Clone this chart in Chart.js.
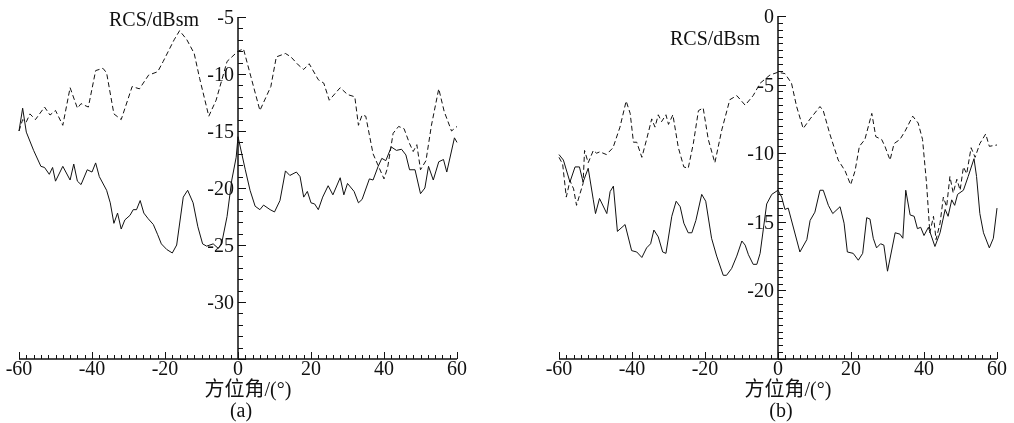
<!DOCTYPE html>
<html>
<head>
<meta charset="utf-8">
<script src="https://cdn.jsdelivr.net/npm/chart.js@4.4.0/dist/chart.umd.min.js"></script>
<style>
    html, body { margin: 0; padding: 0; background: #fff; }
    .panel { position: absolute; top: 0; width: 507px; height: 423px; }
</style>
</head>
<body>
<div class="panel" style="left:0"><canvas id="chartA"></canvas></div>
<div class="panel" style="left:507px"><canvas id="chartB"></canvas></div>
<script>
// --- dados ---
const xTickLabels = [-60, -40, -20, 0, 20, 40, 60];
const yTickLabelsA = [-5, -10, -15, -20, -25, -30];
const yTickLabelsB = [0, -5, -10, -15, -20];

// (a) curva tracejada
const aziA_dashed = [-60,-59,-58,-57,-55.5,-53,-51.5,-50,-48,-46,-44,-43,-41,-39,-37,-36,-34,-32,-29,-27,-24.5,-22,-20.5,-17.5,-16,-14,-12,-10.5,-8,-6,-3,0,1.5,3.5,6,9,10.5,13,14.5,16.5,18,19.5,22,23.5,25,28,30,32,33,34,35,37,40,41,42.5,44,45.5,47,48,49,50,51.5,53,55,56.5,58.5,60];
const rcsA_dashed = [-15,-14,-14.2,-13.5,-14,-12.9,-13.6,-13.2,-14.5,-11.2,-13,-12.6,-12.9,-9.7,-9.5,-9.9,-13.5,-14,-11.1,-11.3,-10.1,-9.8,-8.9,-7,-6.2,-7,-8.2,-10.4,-13.7,-12.3,-8.9,-8,-7.8,-10.2,-13.2,-11.1,-8.5,-8.2,-8.5,-9.2,-9.6,-9.1,-10.5,-10.8,-12.3,-11.2,-11.8,-12,-14.5,-13.6,-13.7,-17,-19.2,-18.2,-15.2,-14.6,-14.8,-16.1,-16.8,-16.2,-18.4,-17.6,-14.5,-11.3,-13.3,-15,-14.6];

// (a) curva contínua
const aziA_solid = [-60,-59,-58,-56,-54,-53,-51.7,-50.8,-50,-48,-46,-45,-44,-43,-41.3,-40,-39,-38,-36,-35,-34,-33,-32,-31,-29.6,-28.7,-27.8,-26.8,-25.8,-24.6,-23.2,-22,-21,-19.5,-18,-16.8,-15,-13.8,-12.3,-11,-9.7,-8.6,-6.8,-5.4,-4.5,-3,-1.7,-0.5,0,2,3.3,4.7,6,7,8.8,10,11.5,13,14.2,16,17,18,19,20,21,22,23.2,24.7,26,28,29,30,31.8,33,34,36,37,38.4,39.4,40.5,42,43.4,44.8,46,47,48.5,50,51.2,52.2,53.5,55,56.3,57.2,59.3,60];
const rcsA_solid = [-15,-13,-15.1,-16.7,-18.1,-18.2,-18.8,-18.2,-19.4,-18.1,-19.3,-17.9,-19.4,-19.7,-18.4,-18.6,-17.8,-19,-20.2,-21.3,-23.1,-22.2,-23.6,-22.8,-22.4,-21.9,-21.9,-21.1,-22.2,-22.7,-23.2,-24.1,-24.9,-25.4,-25.7,-25,-20.8,-20.2,-21.3,-23.4,-24.9,-25.1,-24.9,-25.3,-24.9,-22.5,-19.3,-17.3,-15.5,-18.4,-20.2,-21.6,-21.9,-21.5,-21.9,-22.1,-21.1,-18.5,-18.9,-18.6,-19,-20.8,-20.3,-21.3,-21.4,-21.9,-20.8,-19.8,-20.6,-19.1,-20.6,-19.6,-20.3,-21.3,-21,-19.2,-19.3,-18.1,-17.4,-17.6,-16.4,-16.7,-16.6,-17.1,-18.4,-18.4,-20.5,-20,-18.1,-19.3,-17.7,-17.5,-18.6,-15.6,-16];

// (b) curva tracejada
const aziB_dashed = [-60,-59,-58,-57,-56,-55.2,-53.4,-53,-52,-50.6,-49.7,-48.8,-47,-45.2,-43.3,-41.6,-40.5,-39.6,-38.7,-37.3,-36,-34.6,-33.7,-32.8,-31.9,-30.7,-30,-28.8,-27.3,-25.8,-24.6,-23.2,-21.8,-20.5,-19.1,-17.3,-15.4,-13.2,-11.3,-9,-6.8,-4.9,-2.2,0,1.9,3.7,5.1,6.9,8.8,11.5,12.4,14.2,16.5,18.4,19.9,21.1,22.3,23.8,25.7,26.8,28.4,29.3,30.7,31.8,33.4,34.8,36.9,38.4,39.6,40.7,41.6,42.6,43.3,44.4,45.3,46.2,47.1,48,49,49.9,50.8,51.7,52.9,54,55.3,56.9,57.9,60];
const rcsB_dashed = [-10.3,-10.8,-13.2,-12,-12.6,-13.8,-12.2,-9.8,-10.7,-9.8,-10,-9.9,-10.1,-9.6,-8.1,-6.2,-7.1,-9.2,-9.2,-10.3,-9,-7.5,-8.1,-7.2,-7.7,-7.2,-7.9,-7.2,-9.6,-11,-11.1,-9.3,-6.9,-6.7,-9,-10.7,-8.3,-6.1,-5.8,-6.5,-5.8,-4.9,-4.3,-4.1,-4.2,-4.9,-6.6,-8.2,-7.5,-6.6,-6.9,-8.6,-10.5,-11.3,-12.3,-11.3,-9.5,-9,-7.1,-8.8,-9,-9.5,-10.5,-9.3,-9,-8.4,-7.3,-7.8,-9,-12.2,-15.8,-14.6,-16.3,-15.1,-13.2,-13.9,-11.7,-12.9,-11.9,-12.7,-11,-11.5,-9.6,-10.3,-9.3,-8.6,-9.5,-9.4];

// (b) curva contínua
const aziB_solid = [-60,-58.8,-57,-55.6,-54.4,-53.4,-52,-50.6,-50,-48.9,-46.9,-46,-45.1,-44,-41.9,-40.1,-38.7,-37.3,-36,-34.9,-34,-32.8,-31.6,-30.7,-29.1,-27.9,-26.8,-25.8,-24.6,-23.6,-22.5,-20.9,-19.8,-18.2,-16.8,-15,-14.1,-12.7,-11.3,-9.9,-9,-8.1,-6.8,-5.8,-4.9,-3.1,-1.7,0,1,1.9,2.8,6,7.9,8.8,10.1,11.5,12.4,13.8,15,17,18.1,19,20.6,22,23.2,24.3,25.2,26.1,27,28.1,29,30,32.1,33.4,34.2,35,36.2,37.3,38.2,39.1,40,41.2,43,44.4,45.8,46.6,47.6,48.4,49.2,50.8,52.1,53.7,54.4,55.3,56.3,57.9,59,60];
const rcsB_solid = [-10.1,-10.5,-12.1,-11,-11,-12.1,-11.1,-13.4,-14.4,-13.3,-14.4,-12.8,-12.4,-15.7,-15.2,-17.1,-17.2,-17.6,-16.9,-16.6,-15.6,-16.1,-17.2,-17.3,-14.6,-13.5,-13.9,-15.1,-15.8,-15.8,-14.9,-13,-13.5,-16.2,-17.5,-18.9,-18.9,-18.4,-17.5,-16.4,-16.7,-17.4,-18.1,-18.1,-17.3,-13.7,-13,-12.7,-13.2,-14.1,-14,-17.2,-16.3,-14.9,-14.3,-12.7,-12.7,-13.8,-14.4,-13.9,-15.1,-17.2,-17.3,-17.8,-17.3,-14.7,-14.8,-16.2,-16.9,-16.6,-16.7,-18.6,-15.8,-15.9,-16.2,-12.7,-14.5,-14.6,-15.5,-15.4,-16,-15.4,-16.8,-15.8,-14.1,-14.6,-13.4,-13.8,-13,-12.7,-11.7,-10.4,-11.7,-14.4,-15.8,-16.9,-16.2,-14];

const NUM_FONT = "20px 'Liberation Serif', 'Times New Roman', serif";
const CJK_FONT = "20px 'Liberation Serif', 'Noto Sans CJK SC', serif";

function pares(xs, ys) {
    return xs.map((x, i) => ({ x: x, y: ys[i] }));
}

// eixos no estilo da figura: eixo y em x=0, ticks para dentro
const rcsAxes = {
    id: 'rcsAxes',
    afterDraw(chart, args, opts) {
        const ctx = chart.ctx;
        const sx = chart.scales.x, sy = chart.scales.y;
        const x0 = sx.getPixelForValue(0);
        const yBot = sy.getPixelForValue(sy.min);
        const yTop = sy.getPixelForValue(sy.max);
        const xL = sx.getPixelForValue(sx.min), xR = sx.getPixelForValue(sx.max);

        ctx.save();
        ctx.strokeStyle = '#111';
        ctx.lineWidth = 1.5;
        ctx.beginPath();
        ctx.moveTo(xL, yBot); ctx.lineTo(xR, yBot);
        ctx.moveTo(x0, yBot); ctx.lineTo(x0, yTop);
        ctx.stroke();

        ctx.lineWidth = 1;
        ctx.beginPath();
        // ticks do eixo x (a cada 2 graus)
        const nx = Math.round((sx.max - sx.min) / opts.xMinor);
        for (let i = 0; i <= nx; i++) {
            const v = sx.min + i * opts.xMinor;
            const px = Math.round(sx.getPixelForValue(v)) + 0.5;
            const len = (Math.abs(v % opts.xMajor) < 1e-6) ? 7 : 4;
            ctx.moveTo(px, yBot); ctx.lineTo(px, yBot - len);
        }
        // ticks do eixo y
        const ny = Math.round((sy.max - sy.min) / opts.yMinor);
        for (let i = 0; i <= ny; i++) {
            const v = sy.min + i * opts.yMinor;
            const py = Math.round(sy.getPixelForValue(v)) + 0.5;
            const len = (Math.abs(v % opts.yMajor) < 1e-6) ? 8 : 5;
            ctx.moveTo(x0, py); ctx.lineTo(x0 + len, py);
        }
        ctx.stroke();

        ctx.fillStyle = '#111';
        ctx.font = NUM_FONT;
        ctx.textBaseline = 'alphabetic';
        ctx.textAlign = 'center';
        xTickLabels.forEach(v => {
            ctx.fillText(String(v), sx.getPixelForValue(v), yBot + 16);
        });
        ctx.textAlign = 'right';
        opts.yLabels.forEach(v => {
            ctx.fillText(String(v), x0 - 4, sy.getPixelForValue(v) + 7);
        });

        // títulos
        ctx.fillText('RCS/dBsm', x0 + opts.titleDx, opts.titleY);
        ctx.textAlign = 'center';
        ctx.font = CJK_FONT;
        ctx.fillText('方位角/(°)', x0 + 10, yBot + 37);
        ctx.font = NUM_FONT;
        ctx.fillText(opts.panel, x0 + 3, yBot + 58);
        ctx.restore();
    }
};

function criaPainel(id, datasets, yMin, yMax, padding, axesOpts) {
    return new Chart(document.getElementById(id), {
        type: 'line',
        data: { datasets: datasets },
        options: {
            responsive: true,
            maintainAspectRatio: false,
            animation: false,
            layout: { padding: padding },
            elements: { point: { radius: 0 }, line: { tension: 0, borderWidth: 1 } },
            scales: {
                x: { type: 'linear', min: -60, max: 60, display: false },
                y: { type: 'linear', min: yMin, max: yMax, display: false }
            },
            plugins: {
                legend: { display: false },
                tooltip: { enabled: false },
                rcsAxes: axesOpts
            }
        },
        plugins: [rcsAxes]
    });
}

const tracejado = { borderColor: '#111', borderDash: [5, 3], fill: false, clip: false };
const continuo = { borderColor: '#111', fill: false, clip: false };

criaPainel('chartA', [
    Object.assign({ data: pares(aziA_dashed, rcsA_dashed) }, tracejado),
    Object.assign({ data: pares(aziA_solid, rcsA_solid) }, continuo)
], -35, -5, { left: 19, right: 50, top: 17, bottom: 64 },
   { xMinor: 2, xMajor: 20, yMinor: 1, yMajor: 5, yLabels: yTickLabelsA, titleDx: -39, titleY: 26, panel: '(a)' });

criaPainel('chartB', [
    Object.assign({ data: pares(aziB_dashed, rcsB_dashed) }, tracejado),
    Object.assign({ data: pares(aziB_solid, rcsB_solid) }, continuo)
], -25, 0, { left: 52, right: 17, top: 16, bottom: 64 },
   { xMinor: 2, xMajor: 20, yMinor: 0.5, yMajor: 5, yLabels: yTickLabelsB, titleDx: -18, titleY: 45, panel: '(b)' });
</script>
</body>
</html>
